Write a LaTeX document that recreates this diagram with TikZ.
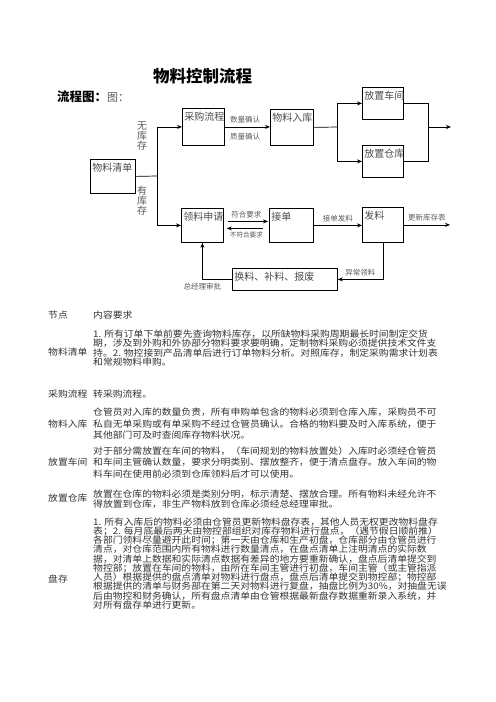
\documentclass[tikz,border=0pt]{standalone}
\usepackage{fontspec}
\setmainfont{Noto Sans CJK SC}
\newfontfamily\cjkwide[FakeStretch=1.09]{Noto Sans CJK SC}
\definecolor{boxgray}{RGB}{75,75,75}
\definecolor{lblgray}{RGB}{90,90,90}
\definecolor{txtgray}{RGB}{50,50,50}
\usetikzlibrary{arrows.meta,positioning}

\begin{document}
\begin{tikzpicture}[x=1bp, y=-1bp,
  flowbox/.style={draw, line width=0.8bp, anchor=north west, inner sep=2bp, align=left, text height=10bp, font=\fontsize{10bp}{12bp}\selectfont, text=boxgray},
  flowline/.style={line width=0.7bp},
  flowarr/.style={-{Stealth[length=5bp,width=4bp]}, line width=0.7bp},
  linklbl/.style={font=\fontsize{7.5bp}{9bp}\selectfont, text=lblgray, inner sep=1bp},
  vlbl/.style={font=\fontsize{10bp}{10bp}\selectfont, align=center, text=lblgray, inner sep=0pt},
  colhead/.style={anchor=west, inner sep=0pt, font=\cjkwide\fontsize{9bp}{9.5bp}\selectfont, text=txtgray},
  bodytext/.style={anchor=west, inner sep=0pt, align=left, text=txtgray, font=\cjkwide\fontsize{9bp}{#1}\selectfont}]
  \useasboundingbox (0,0) rectangle (496,702);

  % Title
  \node[font=\fontsize{16.5bp}{18bp}\selectfont\bfseries] (title) at (202.5,76) {物料控制流程};
  \node[anchor=west, inner sep=0pt, font=\fontsize{12.5bp}{14bp}\selectfont\bfseries] (chart) at (57,97) {流程图：{\mdseries\color{lblgray}\fontsize{11bp}{13bp}\selectfont 图：}};

  % Flow boxes
  \node[flowbox, text width=41bp, text depth=20bp] (qd) at (90,159) {物料清单};
  \node[flowbox, text width=38bp, text depth=23bp] (cg) at (182,108) {采购流程};
  \node[flowbox, text width=39bp, text depth=22bp] (rk) at (270,109) {物料入库};
  \node[flowbox, text width=37bp, text depth=18bp] (cj) at (362,87) {放置车间};
  \node[flowbox, text width=37bp, text depth=18bp] (ck) at (362,145) {放置仓库};
  \node[flowbox, text width=38bp, text depth=20bp] (sq) at (181,208) {领料申请};
  \node[flowbox, text width=40bp, text depth=20bp] (jd) at (269,208) {接单};
  \node[flowbox, text width=37bp, text depth=21bp] (fl) at (362,207) {发料};
  \node[flowbox, text width=101bp, text depth=8bp] (hl) at (232,268) {换料、补料、报废};

  % Stock check
  \node[vlbl] (nostock) at (142,136) {无\\库\\存};
  \node[vlbl] (instock) at (142,200.5) {有\\库\\存};
  \coordinate (qdsplit) at (157,176);
  \draw[flowline] (qd.east) -- (qdsplit);
  \draw[flowarr] (qdsplit) |- (cg.west);
  \draw[flowarr] (qdsplit) |- (sq.west);

  % Purchase and storage
  \draw[flowarr] (cg.east) -- (rk.west |- cg.east)
    node[linklbl, pos=0.45, above=2bp] {数量确认}
    node[linklbl, pos=0.45, below=5bp] {质量确认};
  \coordinate (rksplit) at (337,127);
  \draw[flowline] (rk.east) -- (rksplit);
  \draw[flowarr] (rksplit) |- (cj.west);
  \draw[flowarr] (rksplit) |- (ck.west);
  \coordinate (merge) at (428,127);
  \coordinate (storeout) at (451,127);
  \draw[flowline] (cj.east) -| (merge);
  \draw[flowline] (ck.east) -| (merge);
  \draw[flowarr] (merge) -- (storeout);

  % Issue loop
  \draw[flowarr, shorten <=4bp, shorten >=1bp] ([yshift=4bp]sq.east) -- ([yshift=4bp]jd.west)
    node[linklbl, midway, above=2bp] {符合要求};
  \draw[flowarr, shorten <=6bp, shorten >=3bp] ([yshift=-3bp]jd.west) -- ([yshift=-3bp]sq.east)
    node[linklbl, midway, below=2bp, font=\fontsize{6.6bp}{8bp}\selectfont] {不符合要求};
  \draw[flowarr] (jd.east) -- (fl.west |- jd.east)
    node[linklbl, midway, above=2bp] {接单发料};
  \coordinate (issueout) at (450,225);
  \draw[flowarr] (fl.east) -- (fl.east -| issueout)
    node[linklbl, midway, above=2bp] {更新库存表};
  \draw[flowarr] (fl.south) |- (hl.east)
    node[linklbl, pos=0.75, above=2bp] {异常领料};
  \draw[flowarr] (hl.west) -| (sq.south)
    node[linklbl, pos=0.5, below=2bp] {总经理审批};

  % Table of requirements
  \node[colhead] (hnode) at (48,315) {节点};
  \node[colhead] (hreq) at (93,315) {内容要求};

  \node[colhead] (rqd) at (48,352) {物料清单};
  \node[bodytext=9.5bp] (tqd) at (93,348.25) {1. 所有订单下单前要先查询物料库存，以所缺物料采购周期最长时间制定交货\\期，涉及到外购和外协部分物料要求要明确，定制物料采购必须提供技术文件支\\持。2. 物控接到产品清单后进行订单物料分析。对照库存，制定采购需求计划表\\和常规物料申购。};

  \node[colhead] (rcg) at (48,394) {采购流程};
  \node[bodytext=9.5bp] (tcg) at (93,394) {转采购流程。};

  \node[colhead] (rrk) at (48,424) {物料入库};
  \node[bodytext=11.5bp] (trk) at (93,424) {仓管员对入库的数量负责，所有申购单包含的物料必须到仓库入库，采购员不可\\私自无单采购或有单采购不经过仓管员确认。合格的物料要及时入库系统，便于\\其他部门可及时查阅库存物料状况。};

  \node[colhead] (rcj) at (48,462.5) {放置车间};
  \node[bodytext=11.5bp] (tcj) at (93,462.5) {对于部分需放置在车间的物料，（车间规划的物料放置处）入库时必须经仓管员\\和车间主管确认数量，要求分明类别、摆放整齐，便于清点盘存。放入车间的物\\料车间在使用前必须到仓库领料后才可以使用。};

  \node[colhead] (rck) at (48,498) {放置仓库};
  \node[bodytext=10bp] (tck) at (93,499) {放置在仓库的物料必须是类别分明，标示清楚、摆放合理。所有物料未经允许不\\得放置到仓库，非生产物料放到仓库必须经总经理审批。};

  \node[colhead] (rpc) at (48,579) {盘存};
  \node[bodytext=9.25bp] (tpc) at (93,563.4) {1. 所有入库后的物料必须由仓管员更新物料盘存表，其他人员无权更改物料盘存\\表；2. 每月底最后两天由物控部组织对库存物料进行盘点，（遇节假日顺前推）\\各部门领料尽量避开此时间；第一天由仓库和生产初盘，仓库部分由仓管员进行\\清点，对仓库范围内所有物料进行数量清点，在盘点清单上注明清点的实际数\\据，对清单上数据和实际清点数据有差异的地方要重新确认，盘点后清单提交到\\物控部；放置在车间的物料，由所在车间主管进行初盘，车间主管（或主管指派\\人员）根据提供的盘点清单对物料进行盘点，盘点后清单提交到物控部；物控部\\根据提供的清单与财务部在第二天对物料进行复盘，抽盘比例为30\%，对抽盘无误\\后由物控和财务确认，所有盘点清单由仓管根据最新盘存数据重新录入系统，并\\对所有盘存单进行更新。};
\end{tikzpicture}
\end{document}
